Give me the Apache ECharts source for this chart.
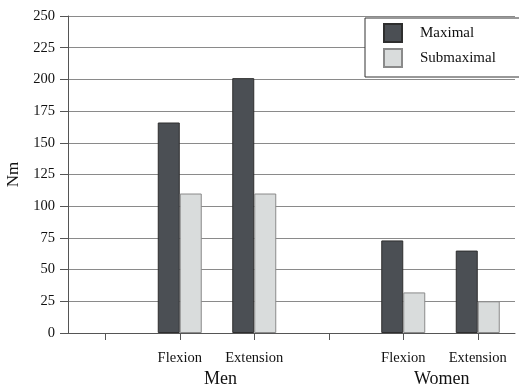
<!DOCTYPE html>
<html><head><meta charset="utf-8">
<script src="https://cdn.jsdelivr.net/npm/echarts@6/dist/echarts.min.js"></script>
<style>html,body{margin:0;padding:0;background:#fff}#c{width:519px;height:386px}</style>
</head><body><div id="c"></div>
<script>
var categories = ['', 'Flexion', 'Extension', '', 'Flexion', 'Extension'];
var maximal = [null, 166, 201, null, 73, 65];
var submaximal = [null, 110, 110, null, 32, 25];
var groupLabels = ['Men', 'Women'];
var yMin = 0, yMax = 250, yStep = 25;

var serif = '"Liberation Serif", "DejaVu Serif", serif';
var chart = echarts.init(document.getElementById('c'));
chart.setOption({
  animation: false,
  backgroundColor: '#fff',
  textStyle: { fontFamily: serif },
  grid: { left: 68, right: 4, top: 16, bottom: 53, containLabel: false, outerBoundsMode: 'none' },
  legend: {
    orient: 'vertical', left: 365, top: 18,
    padding: [5, 60, 9, 18], itemGap: 5,
    itemWidth: 18, itemHeight: 18,
    borderColor: '#333', borderWidth: 1, backgroundColor: '#fff',
    textStyle: { fontFamily: serif, fontSize: 15, color: '#111', padding: [0, 0, 0, 13] },
    data: [{ name: 'Maximal', icon: 'rect' }, { name: 'Submaximal', icon: 'rect' }],
    z: 10
  },
  xAxis: {
    type: 'category', data: categories,
    axisLine: { show: true, onZero: false, lineStyle: { color: '#555', width: 1 } },
    axisTick: { show: true, interval: 0, alignWithLabel: true, length: 7, lineStyle: { color: '#555' } },
    axisLabel: { color: '#111', fontSize: 14.5, fontFamily: serif, margin: 18, interval: 0 }
  },
  yAxis: {
    type: 'value', min: yMin, max: yMax, interval: yStep,
    name: 'Nm', nameLocation: 'middle', nameGap: 44, nameRotate: 90,
    nameTextStyle: { color: '#111', fontSize: 17, fontFamily: serif },
    axisLine: { show: true, onZero: false, lineStyle: { color: '#555', width: 1 } },
    axisTick: { show: true, length: 8, lineStyle: { color: '#555' } },
    axisLabel: { color: '#111', fontSize: 14.5, fontFamily: serif, margin: 13 },
    splitLine: { show: true, lineStyle: { color: '#8a8a8a', width: 1 } }
  },
  series: [
    { name: 'Maximal', type: 'bar', data: maximal, barWidth: 22, barGap: 0,
      itemStyle: { color: '#4b4f54', borderColor: '#2e2e2e', borderWidth: 1 } },
    { name: 'Submaximal', type: 'bar', data: submaximal, barWidth: 22, barGap: 0,
      itemStyle: { color: '#d9dcdc', borderColor: '#8a8a8a', borderWidth: 1 } }
  ],
  graphic: [
    { type: 'text', left: 204, top: 370, style: { text: groupLabels[0], font: '18px ' + serif, fill: '#111' } },
    { type: 'text', left: 414, top: 370, style: { text: groupLabels[1], font: '18px ' + serif, fill: '#111' } }
  ]
});
</script></body></html>
